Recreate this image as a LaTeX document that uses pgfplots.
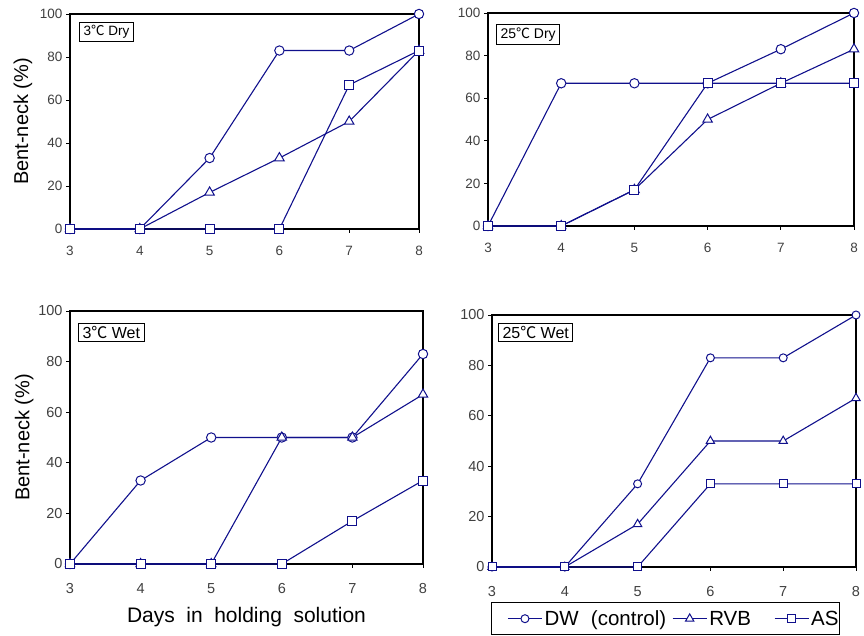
\documentclass[border=0pt]{standalone}
\usepackage{fontspec}
\setmainfont{Liberation Sans}
\newfontfamily\cjk{Noto Sans CJK KR}
\usepackage{pgfplots}
\pgfplotsset{compat=1.18}
\definecolor{navy}{HTML}{10108C}
\newcommand{\degc}{{\cjk ℃}}

\tikzset{
  tag/.style={draw=black, line width=1pt, fill=white, inner xsep=4pt, inner ysep=3pt,
    anchor=north west, text=black},
}
\pgfplotsset{
  panel/.style={
    scale only axis, anchor=south west,
    xmin=3, xmax=8, ymin=0, ymax=100,
    xtick={3,4,5,6,7,8}, ytick={0,20,40,60,80,100},
    axis line style={line width=1.2pt},
    tick style={black, line width=0.8pt},
    tick align=outside, major tick length=4pt,
    xtick pos=bottom, ytick pos=left,
    /pgf/number format/assume math mode=true,
    ticklabel style={text=black!75},
    clip=false,
    every axis plot/.append style={navy, line width=1.1pt,
      mark options={fill=white, solid, line width=1pt}},
  },
  dw/.style={mark=*, mark size=4.7pt},
  rvb/.style={mark=triangle*, mark size=5.5pt},
  as/.style={mark=square*, mark size=4.5pt},
}

\begin{document}
\begin{tikzpicture}
\useasboundingbox (0,0) rectangle (864pt,636pt);

% 3C dry
\begin{axis}[panel, at={(70pt,407pt)}, width=349pt, height=215pt,
  ticklabel style={font=\fontsize{13.5}{15}\selectfont},
  xticklabel style={yshift=-10pt},
  ylabel={Bent-neck (\%)},
  ylabel style={font=\fontsize{20}{24}\selectfont, at={(axis description cs:-0.135,0.5)}, anchor=center}]
\addplot[dw] coordinates {(3,0) (4,0) (5,33) (6,83) (7,83) (8,100)};
\addplot[rvb] coordinates {(3,0) (4,0) (5,17) (6,33) (7,50) (8,83)};
\addplot[as] coordinates {(3,0) (4,0) (5,0) (6,0) (7,67) (8,83)};
\node[tag, font=\fontsize{13.5}{15}\selectfont] at (rel axis cs:0,1) [xshift=9pt, yshift=-8pt] {3\degc\ Dry};
\end{axis}

% 25C dry
\begin{axis}[panel, at={(488pt,410pt)}, width=366pt, height=213pt,
  ticklabel style={font=\fontsize{13.5}{15}\selectfont},
  xticklabel style={yshift=-10pt}]
\addplot[dw] coordinates {(3,0) (4,67) (5,67) (6,67) (7,83) (8,100)};
\addplot[rvb] coordinates {(3,0) (4,0) (5,17) (6,50) (7,67) (8,83)};
\addplot[as] coordinates {(3,0) (4,0) (5,17) (6,67) (7,67) (8,67)};
\node[tag, font=\fontsize{14}{16}\selectfont] at (rel axis cs:0,1) [xshift=8pt, yshift=-11pt] {25\degc\ Dry};
\end{axis}

% 3C wet
\begin{axis}[panel, at={(70pt,72pt)}, width=353pt, height=253pt,
  ticklabel style={font=\fontsize{14.5}{16}\selectfont},
  xticklabel style={yshift=-12pt},
  ylabel={Bent-neck (\%)},
  ylabel style={font=\fontsize{20}{24}\selectfont, at={(axis description cs:-0.13,0.5)}, anchor=center},
  xlabel={Days\hspace{0.55em}in\hspace{0.55em}holding\hspace{0.55em}solution},
  xlabel style={font=\fontsize{21}{24}\selectfont, at={(axis description cs:0.5,-0.209)}, anchor=center}]
\addplot[dw] coordinates {(3,0) (4,33) (5,50) (6,50) (7,50) (8,83)};
\addplot[rvb] coordinates {(3,0) (4,0) (5,0) (6,50) (7,50) (8,67)};
\addplot[as] coordinates {(3,0) (4,0) (5,0) (6,0) (7,17) (8,33)};
\node[tag, font=\fontsize{16}{18}\selectfont] at (rel axis cs:0,1) [xshift=8pt, yshift=-12pt] {3\degc\ Wet};
\end{axis}

% 25C wet
\begin{axis}[panel, at={(492pt,69pt)}, width=364pt, height=252pt,
  ticklabel style={font=\fontsize{14.5}{16}\selectfont},
  xticklabel style={yshift=-12pt},
  legend columns=3,
  legend image code/.code={\draw[mark repeat=2, mark phase=2, #1] plot coordinates {(0pt,0pt) (17pt,0pt) (34pt,0pt)};},
  legend style={at={(axis description cs:-0.003,-0.139)}, anchor=north west,
    draw=black, line width=1pt, font=\fontsize{20.5}{24}\selectfont,
    inner xsep=16pt, inner ysep=6pt,
    /tikz/every odd column/.append style={column sep=0pt},
    /tikz/every even column/.append style={column sep=4pt}},
  legend cell align=left]
\addplot[dw, mark size=4pt] coordinates {(3,0) (4,0) (5,33) (6,83) (7,83) (8,100)};
\addlegendentry{DW\hspace{0.6em}(control)}
\addplot[rvb, mark size=4.8pt] coordinates {(3,0) (4,0) (5,17) (6,50) (7,50) (8,67)};
\addlegendentry{RVB\rule{17pt}{0pt}}
\addplot[as, mark size=4pt] coordinates {(3,0) (4,0) (5,0) (6,33) (7,33) (8,33)};
\addlegendentry{AS\kern-17pt}
\node[tag, font=\fontsize{16}{18}\selectfont] at (rel axis cs:0,1) [xshift=6pt, yshift=-8pt] {25\degc\ Wet};
\end{axis}
\end{tikzpicture}
\end{document}
